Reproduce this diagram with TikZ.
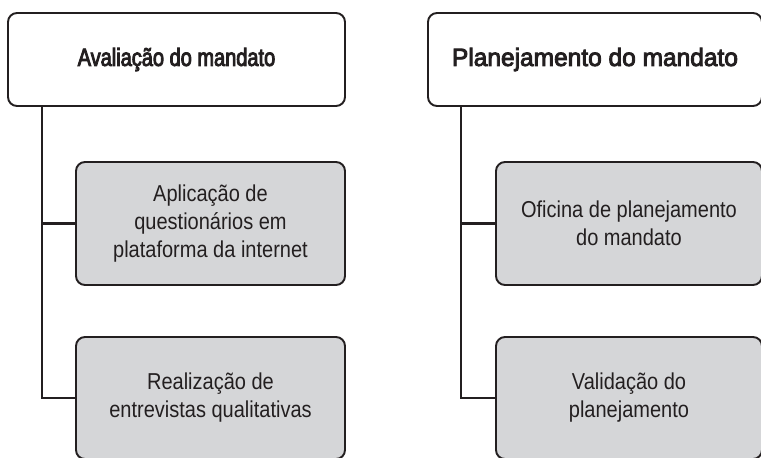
\documentclass[tikz,border=0pt]{standalone}
\usepackage{fontspec}
\setmainfont{Liberation Sans}
\newfontfamily\HeadFont{Liberation Sans}[FakeBold=3.5,FakeStretch=0.80]
\newfontfamily\HeadWideFont{Liberation Sans}[FakeBold=3.5,FakeStretch=0.98]
\newfontfamily\StepFont{Liberation Sans}[FakeStretch=0.87]
\usepackage{tikz}
\definecolor{Ink}{RGB}{35,31,32}
\definecolor{Shade}{RGB}{213,214,216}
\tikzstyle{Head}=[draw=Ink,fill=white,rounded corners=9pt,line width=1.9pt,
minimum width=337pt,minimum height=93pt,text=Ink,
font=\HeadFont\fontsize{25}{30}\selectfont]
\tikzstyle{StepBox}=[draw=Ink,fill=Shade,rounded corners=9pt,line width=1.9pt,
minimum width=269pt,minimum height=123pt,text=Ink,align=center,
font=\StepFont\fontsize{23}{28}\selectfont]
\tikzstyle{Edge}=[draw=Ink,line width=2.4pt]

\begin{document}
\begin{tikzpicture}[x=1pt,y=-1pt]
        \useasboundingbox(0,0)rectangle(761,458);
        \node[Head](aval)at(176.5,59.5){Avaliação do mandato};
        \node[Head,minimum width=334pt,font=\HeadWideFont\fontsize{25}{30}\selectfont](plan)at(595,59.5){Planejamento do mandato};
        \node[StepBox](apl)at(210.5,223.5){Aplicação de\\questionários em\\plataforma da internet};
        \node[StepBox,minimum height=122pt](rea)at(210.5,398){Realização de\\entrevistas qualitativas};
        \node[StepBox,minimum width=266pt](ofi)at(629,223.5){Oficina de planejamento\\do mandato};
        \node[StepBox,minimum width=266pt,minimum height=122pt](val)at(629,398){Validação do\\planejamento};
        \draw[Edge]([xshift=35pt]aval.south west)|-(apl.west);
        \draw[Edge]([xshift=35pt]aval.south west)|-(rea.west);
        \draw[Edge]([xshift=34pt]plan.south west)|-(ofi.west);
        \draw[Edge]([xshift=34pt]plan.south west)|-(val.west);
    \end{tikzpicture}
\end{document}
